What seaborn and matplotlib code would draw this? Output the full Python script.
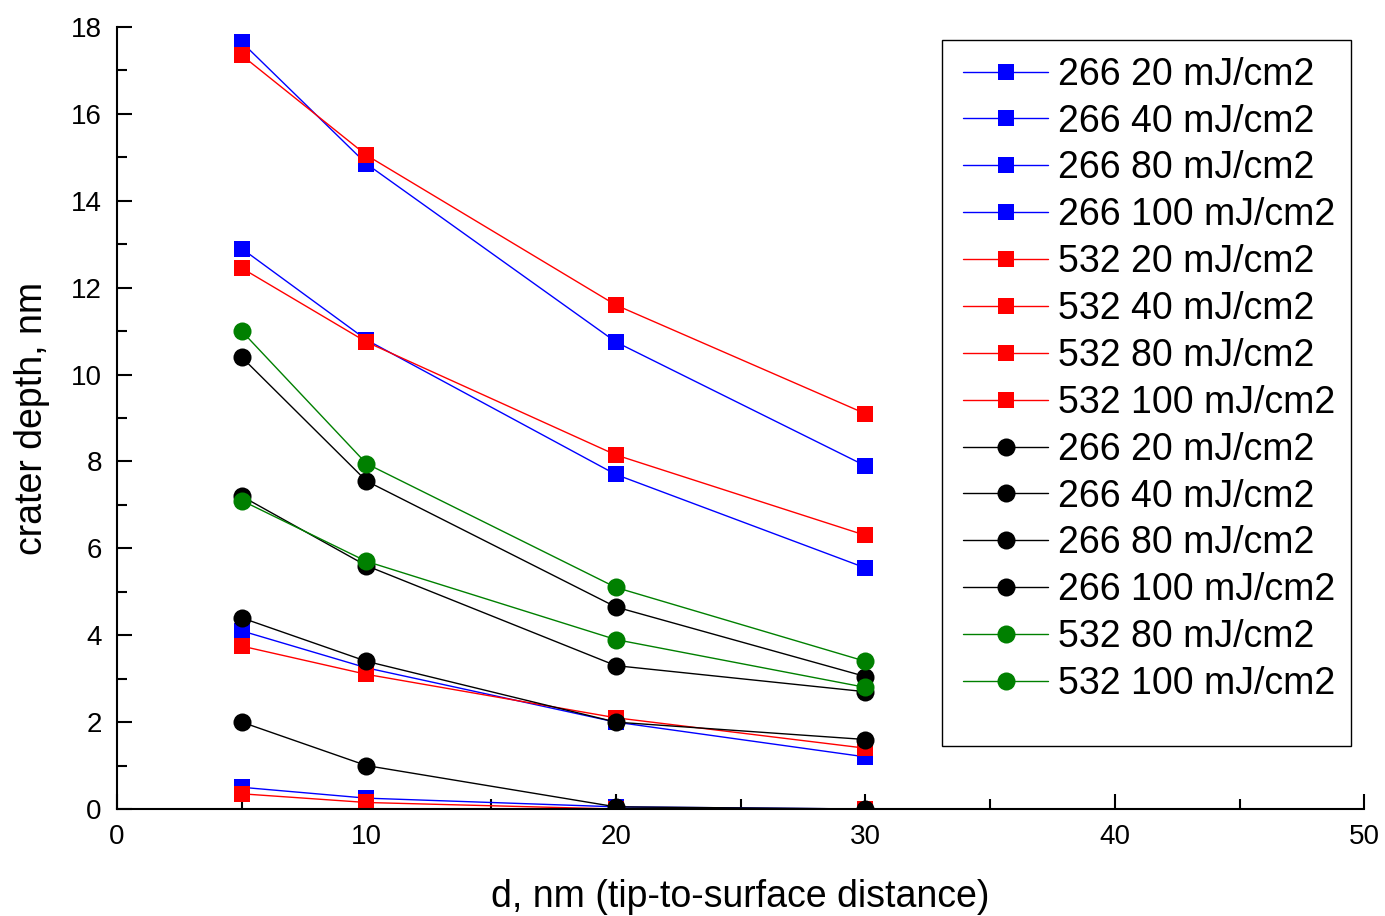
#!/usr/bin/env python3
# Crater depth vs tip-to-surface distance

import pandas as pd
import matplotlib.pyplot as plt
from matplotlib.patches import Rectangle
import seaborn as sns

# ============================================================================
# DATA
# ============================================================================
distance = [5, 10, 20, 30]

# 266 nm, squares (blue)
d266_sq_20 = [0.50, 0.25, 0.05, 0.00]
d266_sq_40 = [4.10, 3.25, 2.00, 1.20]
d266_sq_80 = [12.90, 10.80, 7.70, 5.55]
d266_sq_100 = [17.65, 14.85, 10.75, 7.90]

# 532 nm, squares (red)
d532_sq_20 = [0.35, 0.15, 0.00, 0.00]
d532_sq_40 = [3.75, 3.10, 2.10, 1.40]
d532_sq_80 = [12.45, 10.75, 8.15, 6.30]
d532_sq_100 = [17.35, 15.05, 11.60, 9.10]

# 266 nm, circles (black)
d266_ci_20 = [2.00, 1.00, 0.05, 0.00]
d266_ci_40 = [4.40, 3.40, 2.00, 1.60]
d266_ci_80 = [7.20, 5.60, 3.30, 2.70]
d266_ci_100 = [10.40, 7.55, 4.65, 3.05]

# 532 nm, circles (green)
d532_ci_80 = [7.10, 5.70, 3.90, 2.80]
d532_ci_100 = [11.00, 7.95, 5.10, 3.40]

labels = ["266 20 mJ/cm2", "266 40 mJ/cm2", "266 80 mJ/cm2", "266 100 mJ/cm2",
          "532 20 mJ/cm2", "532 40 mJ/cm2", "532 80 mJ/cm2", "532 100 mJ/cm2",
          "266 20 mJ/cm2", "266 40 mJ/cm2", "266 80 mJ/cm2", "266 100 mJ/cm2",
          "532 80 mJ/cm2", "532 100 mJ/cm2"]
series = [d266_sq_20, d266_sq_40, d266_sq_80, d266_sq_100,
          d532_sq_20, d532_sq_40, d532_sq_80, d532_sq_100,
          d266_ci_20, d266_ci_40, d266_ci_80, d266_ci_100,
          d532_ci_80, d532_ci_100]
colors = ["#0000FF"] * 4 + ["#FF0000"] * 4 + ["#000000"] * 4 + ["#008000"] * 2
markers = ["s"] * 8 + ["o"] * 6

# ============================================================================
# THEME SETTINGS
# ============================================================================
sns.set_theme(style="ticks")
plt.rcParams['font.family'] = ['Liberation Sans', 'DejaVu Sans']
plt.rcParams['axes.linewidth'] = 1.5
plt.rcParams['text.color'] = 'black'
plt.rcParams['axes.labelcolor'] = 'black'
plt.rcParams['xtick.color'] = 'black'
plt.rcParams['ytick.color'] = 'black'
plt.rcParams['axes.edgecolor'] = 'black'

fig = plt.figure(figsize=(13.85, 9.16), dpi=100)
ax = fig.add_axes([0.0845, 0.1168, 0.9005, 0.8537])

for vals, lab, col, mk in zip(series, labels, colors, markers):
    df = pd.DataFrame({"d": distance, "depth": vals})
    sns.lineplot(data=df, x="d", y="depth", color=col, marker=mk,
                 markersize=12 if mk == "s" else 13, markeredgewidth=0,
                 linewidth=1.0, label=lab, ax=ax)

ax.set_xlim(0, 50)
ax.set_ylim(0, 18)
ax.set_xticks(range(0, 51, 10))
ax.set_xticks(range(5, 50, 10), minor=True)
ax.set_yticks(range(0, 19, 2))
ax.set_yticks(range(1, 18, 2), minor=True)
ax.tick_params(which='major', direction='in', length=11, width=1.5,
               labelsize=20, pad=11)
ax.tick_params(which='minor', direction='in', length=7, width=1.5)
sns.despine(ax=ax)

ax.set_xlabel("d, nm (tip-to-surface distance)", fontsize=27, labelpad=21)
ax.set_ylabel("crater depth, nm", fontsize=27, labelpad=15)

# legend box (taller than its entries, as in the original)
ax.add_patch(Rectangle((0.6616, 0.0806), 0.328, 0.9024, transform=ax.transAxes,
                       facecolor='white', edgecolor='black', linewidth=1.0,
                       clip_on=False, zorder=4))
leg = ax.legend(loc='upper left', bbox_to_anchor=(0.6784, 0.962),
                fontsize=27, frameon=False, handlelength=2.27,
                handletextpad=0.27, labelspacing=0.29, borderpad=0,
                borderaxespad=0)
leg.set_zorder(5)

plt.savefig("out.png", dpi=100)
plt.close()
